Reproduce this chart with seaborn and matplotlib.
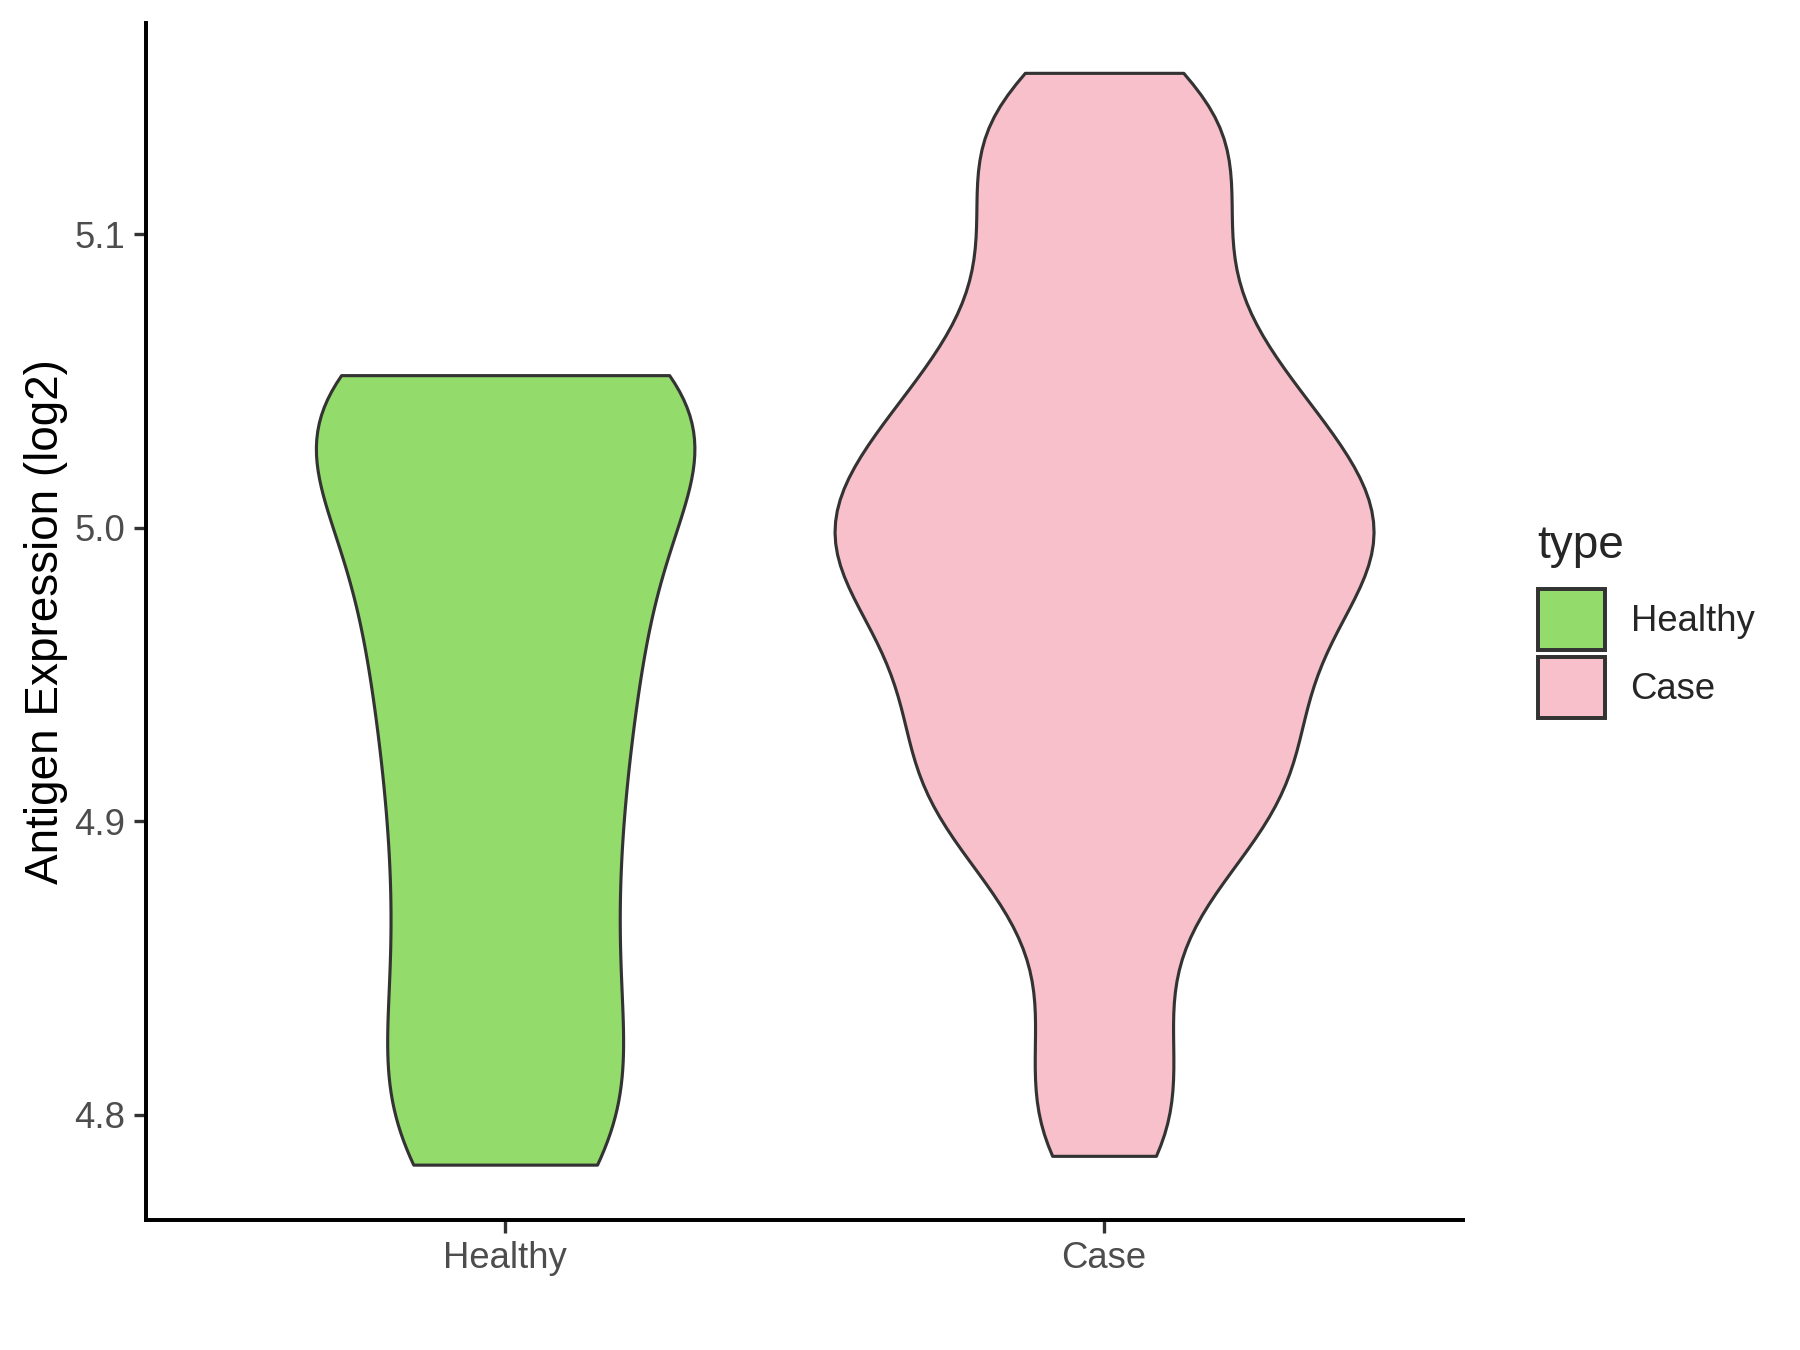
import matplotlib
matplotlib.use("Agg")
import matplotlib.pyplot as plt
from matplotlib.patches import Patch
import seaborn as sns
import pandas as pd

# ---- data ----
types = ["Healthy", "Case"]
healthy_vals = [4.783, 4.785, 4.792, 4.804, 4.818, 4.832, 4.846, 4.860,
                4.874, 4.888, 4.902, 4.915, 4.928, 4.940, 4.952, 4.963,
                4.974, 4.985, 4.995, 5.005, 5.015, 5.025, 5.034, 5.042,
                5.046, 5.049, 5.050, 5.051, 5.052]
case_vals = [4.786, 4.808, 4.830, 4.855, 4.875, 4.888, 4.898, 4.907, 4.915,
             4.923, 4.931, 4.939, 4.947, 4.955, 4.962, 4.969, 4.976, 4.982,
             4.987, 4.993, 4.998, 5.004, 5.009, 5.015, 5.021, 5.027, 5.034,
             5.041, 5.049, 5.058, 5.068, 5.080, 5.093, 5.106, 5.118, 5.130,
             5.142, 5.155]
colors = {"Healthy": "#93DB6B", "Case": "#F7C0CB"}
yticks = [4.8, 4.9, 5.0, 5.1]

df = pd.DataFrame({
    "type": ["Healthy"] * len(healthy_vals) + ["Case"] * len(case_vals),
    "value": healthy_vals + case_vals,
})

sns.set_style("white")
plt.rcParams["font.family"] = ["Liberation Sans", "DejaVu Sans"]

fig = plt.figure(figsize=(12, 9), dpi=150)
ax = fig.add_axes([0.081, 0.096, 0.732, 0.887])

# violins drawn one at a time so each keeps its own width / smoothing
widths = {"Healthy": 0.632, "Case": 0.9}
bw = {"Healthy": 0.72, "Case": 0.44}
for t in types:
    sub = df[df["type"] == t]
    sns.violinplot(data=sub, x="type", y="value", order=types, color=colors[t],
                   width=widths[t], cut=0, inner=None, density_norm="width",
                   bw_adjust=bw[t], linecolor="#333333", linewidth=1.5,
                   saturation=1, ax=ax)

ax.set_xlim(-0.6, 1.6)
ax.set_ylim(4.764, 5.172)
ax.set_yticks(yticks)
ax.set_yticklabels([f"{v:.1f}" for v in yticks])
ax.set_xlabel("")
ax.set_ylabel("Antigen Expression (log2)", fontsize=22, color="black", labelpad=3)
ax.tick_params(axis="both", labelsize=17.5, labelcolor="#4D4D4D", color="#333333",
               length=6, width=1.6, direction="out", left=True, bottom=True, pad=4)
for side in ["top", "right"]:
    ax.spines[side].set_visible(False)
for side in ["left", "bottom"]:
    ax.spines[side].set_color("black")
    ax.spines[side].set_linewidth(1.9)

handles = [Patch(facecolor=colors[t], edgecolor="#333333", linewidth=1.9, label=t)
           for t in types]
leg = fig.legend(handles=handles, title="type", loc="center left",
                 bbox_to_anchor=(0.836, 0.54), frameon=False, fontsize=17.5,
                 title_fontsize=22, handlelength=1.85, handleheight=2.2,
                 labelspacing=0.2, handletextpad=0.7, alignment="left")
leg._legend_box.sep = 10  # a bit more room under the title, like ggplot

fig.savefig("out.png", dpi=150)
